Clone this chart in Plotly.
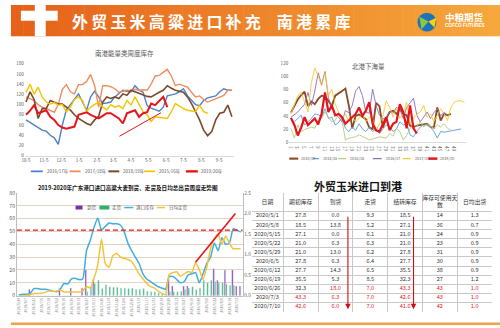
import plotly.graph_objects as go
import pandas as pd

W, H = 500, 328
def px(x): return x / W
def py(y): return 1 - y / H

FONT = "Noto Sans CJK SC"

# ---------------- top-left: 南港能量类周度库存 ----------------
tl_weeks = pd.date_range("2000-10-05", periods=52, freq="7D")
tl_tickvals = ["2000-10-05", "2000-11-05", "2000-12-05", "2001-01-05", "2001-02-05", "2001-03-05",
               "2001-04-05", "2001-05-05", "2001-06-05", "2001-07-05", "2001-08-05", "2001-09-05"]
tl_ticktext = ["10-5", "11-5", "12-5", "1-5", "2-5", "3-5", "4-5", "5-5", "6-5", "7-5", "8-5", "9-5"]
tl_names = ["2016/17年", "2017/18年", "2018/19年", "2015/16年", "2019/20年"]
tl_2016_17 = [70, 65, 60, 55, 50, 48, 40, 35, 22, 60, 90, 100, 110, 121, 105, 89, 115, 126, 115, 102,
              103, 105, 115, 122, 128, 126, 125, 137, 128, 124, 98, 93, 90, 87, 95, 117, 119, 121, 125, 131,
              117, 108, 100, 98, 108, 113, 115, 117, 125, 131, 128, 128]
tl_2017_18 = [115, 112, 108, 100, 95, 92, 88, 85, 100, 130, 139, 125, 121, 139, 139, 145, 159, 137, 95, 137,
              137, 135, 131, 124, 126, 128, 127, 130, 128, 129, 128, 140, 156, 157, 163, 169, 156, 137, 140, 137,
              134, 124, 115, 117, 110, 105, 108, 111, 115, 118, 128, 128]
tl_2018_19 = [105, 125, 110, 73, 92, 92, 108, 104, 101, 101, 95, 89, 80, 73, 68, 63, 60, 70, 77, 105,
              115, 112, 115, 112, 121, 118, 128, 125, 121, 118, 116, 115, 120, 124, 128, 137, 132, 128, 126, 124,
              115, 102, 86, 70, 50, 39, 47, 70, 83, 85, 99, 76]
tl_2015_16 = [124, 140, 120, 134, 115, 105, 101, 104, 99, 100, 86, 95, 110, 115, 108, 86, 95, 100, 105, 95,
              90, 100, 95, 98, 92, 108, 99, 115, 100, 86, 80, 67, 76, 75, 73, 73, 86, 102, 97, 92,
              89, 88, 86, 99, 86, 83, None, None, None, None, None, None]
tl_2019_20 = [80, 88, 99, 83, 86, 89, 76, 70, 60, 55, 53, 55, 57, 80, 82, 85, 80, 77, 73, 78,
              83, 83, 78, 73, 63, 83, 86, 89, 76, 83, 85, 102, 99, 108, 115, 95, None, None, None, None,
              None, None, None, None, None, None, None, None, None, None, None, None]
tl_colors = ["#4F81C7", "#F08C5A", "#7A4A2A", "#F5C400", "#E8141B"]
tl_widths = [1.4, 1.4, 1.6, 1.4, 2.0]

# ---------------- top-right: 北港下海量 ----------------
tr_weeks = list(range(1, 53))
tr_names = ["2018/19", "2014/15", "2015/16", "2016/17", "2017/18", "2019/20"]
def pad(v): return v + [None] * (52 - len(v))
tr_2018_19 = pad([45, 55, 65, 72, 77, 55, 62, 58, 66, 71, 70, 63, 55, 71, 74, 78, 82, 56, 21, 40,
                  42, 38, 35, 22, 20, 60, 55, 22, 36, 46, 48, 43, 51, 43, 41, 25, 23, 25, 26, 28,
                  28, 23, 22, 53, 33, 43, 41, 43])
tr_2014_15 = pad([36, 31, 36, 41, 26, 31, 36, 43, 42, 38, 51, 36, 38, 26, 30, 37, 21, 16, 23, 18,
                  28, 20, 16, 23, 16, 20, 13, 20, 26, 24, 16, 20, 31, 26, 28, 11, 8, 16, 23, 26,
                  26, 23, 16, 6, 16, 15, 16, 17, 18, 20, 20])
tr_2015_16 = pad([21, 6, 26, 16, 19, 21, 23, 21, 33, 36, 46, 38, 31, 33, 43, 33, 3, 6, 7, 8,
                  11, 9, 6, 3, 4, 6, 8, 7, 6, 13, 9, 21, 16, 3, 10, 21, 26, 24, 31, 23,
                  28, 24, 21, 26, 23, 28, 21, 18])
tr_2016_17 = pad([38, 42, 46, 52, 58, 76, 56, 78, 106, 88, 108, 68, 51, 43, 38, 31, 48, 45, 56, 78,
                  85, 71, 46, 44, 81, 56, 41, 35, 38, 46, 44, 53, 50, 36, 53, 60, 67, 41, 31, 38,
                  46, 36, 45, 51, 40, 46, 41])
tr_2017_18 = pad([43, 56, 71, 76, 61, 46, 91, 113, 101, 86, 106, 71, 81, 58, 46, 36, 43, 31, 38, 31,
                  36, 43, 31, 38, 36, 18, 28, 40, 63, 53, 38, 51, 36, 43, 61, 28, 36, 43, 46, 56,
                  38, 43, 31, 41, 51, 43, 33, 53, 61, 63, 63, 61])
tr_2019_20 = pad([37, 26, 10, 22, 38, 26, 31, 36, 27, 43, 76, 46, 56, 41, 43, 38, 28, 33, 38, 43,
                  53, 40, 48, 61, 28, 18, 16, 28, 38, 18, 28, 31, 58, 46, 21, 56, 21, 13])
tr_colors = ["#8B4A22", "#5B9BD5", "#B5C97A", "#8E6BB8", "#F7C531", "#E8141B"]
tr_widths = [1.8, 0.9, 0.9, 0.9, 0.9, 2.2]
tr_tickvals = list(range(1, 50, 2))

# ---------------- bottom-left: 广东港口 ----------------
bl_dates = [d.strftime("%Y/%-m/%-d") for d in pd.date_range(end="2020-07-10", periods=60, freq="7D")]
bl_arrive = [0, 0, 0, 5, 0, 0, 0, 0, 0, 0, 0, 5.5, 0, 0, 6, 0, 0, 6, 20, 0,
             13, 0, 0, 0, 0, 0, 0, 0, 0, 0, 0, 0, 0, 0, 0, 0, 0, 0, 0, 0,
             13, 7.5, 0, 0, 7.5, 7.5, 0, 0, 0, 0, 0, 0, 21, 12, 0, 20, 0, 20, 7.5, 7.5]
bl_move = [0, 0, 0, 0, 0, 0, 0, 0, 0, 0, 0, 0, 0, 0, 0, 0, 0, 0, 3, 7,
           9.5, 12, 5.5, 8.5, 7, 6.5, 6.5, 6, 6, 5.5, 6, 5, 5, 5.5, 3.5, 3, 3, 2, 1.5, 1,
           3, 3, 3, 3.5, 5, 6, 7, 4.5, 6, 12, 10, 12, 11, 10, 10, 9, 8, 8, 0, 0]
bl_stock = [0.5, 1, 1, 1.5, 5.5, 5.5, 5, 5, 4.5, 3.5, 3, 5, 9.5, 9, 13, 13.5, 12.5, 13, 35, 43,
            53, 60.5, 51, 54, 56.5, 56, 56, 55, 50, 41, 35, 30, 25, 17, 13, 11, 9, 7, 6, 5,
            15, 15, 12.5, 10, 11, 16, 17, 18, 10, 17, 25, 30, 41, 35, 45, 40, 41, 52, 51, 49.5]
bl_daily = [0, 0, 0, 0.02, 0.05, 0.05, 0.06, 0.08, 0.11, 0.11, 0.11, 0.14, 0.09, 0.09, 0.09, 0.09, 0.09, 0.11, 0.22, 0.19,
            0.42, 0.75, 1.38, 0.78, 0.69, 0.97, 1.03, 0.94, 0.91, 0.88, 0.83, 0.69, 0.53, 0.41, 0.30, 0.22, 0.19, 0.11, 0.06, 0.03,
            0.52, 0.56, 0.58, 0.47, 0.53, 0.59, 0.56, 0.80, 0.63, 0.39, 0.70, 1.14, 1.39, 1.50, 1.25, 1.45, 1.28, 1.14, 1.14, 1.14]
bl_names = ["到货", "走货", "港口库存", "日均走货"]
bl_colors = ["#7A2FA8", "#2EAF6A", "#3FAEE0", "#F5C33B"]

# ---------------- table: 外贸玉米进口到港 ----------------
tb_header = ["日期", "期初库存", "到货", "走货", "结转库存", "库存可使用天<br>数", "日均出货"]
tb_date = ["2020/5/1", "2020/5/8", "2020/5/15", "2020/5/22", "2020/5/29", "2020/6/5", "2020/6/12",
           "2020/6/19", "2020/6/26", "2020/7/3", "2020/7/10"]
tb_open = ["27.8", "18.5", "27.1", "21.0", "21.0", "27.8", "27.7", "35.5", "32.3", "43.3", "42.6"]
tb_arrive = ["0.0", "13.8", "0.0", "6.3", "13.0", "6.3", "14.3", "5.3", "18.0", "6.3", "6.0"]
tb_move = ["9.3", "5.2", "6.1", "6.3", "6.2", "6.4", "6.5", "8.5", "7.0", "7.0", "7.0"]
tb_close = ["18.5", "27.1", "21.0", "21.0", "27.8", "27.7", "35.5", "32.3", "43.3", "42.6", "41.6"]
tb_days = ["14", "36", "24", "23", "31", "30", "38", "27", "43", "43", "42"]
tb_daily = ["1.3", "0.7", "0.9", "0.9", "0.9", "0.9", "0.9", "1.2", "1.0", "1.0", "1.0"]
tb_colwidths = [32, 35, 35, 35, 35, 35, 35]
tb_red_from = [99, 9, 8, 8, 8, 8, 8]   # row index where text turns red, per column

fig = go.Figure()

for name, vals, c, w in zip(tl_names, [tl_2016_17, tl_2017_18, tl_2018_19, tl_2015_16, tl_2019_20], tl_colors, tl_widths):
    fig.add_trace(go.Scatter(x=tl_weeks, y=vals, name=name, mode="lines", line=dict(color=c, width=w),
                             xaxis="x", yaxis="y", showlegend=False))
for name, vals, c, w in zip(tr_names, [tr_2018_19, tr_2014_15, tr_2015_16, tr_2016_17, tr_2017_18, tr_2019_20], tr_colors, tr_widths):
    fig.add_trace(go.Scatter(x=tr_weeks, y=vals, name=name, mode="lines", line=dict(color=c, width=w),
                             xaxis="x2", yaxis="y2", showlegend=False))
fig.add_trace(go.Bar(x=bl_dates, y=bl_arrive, name=bl_names[0], marker_color=bl_colors[0], xaxis="x3", yaxis="y3", showlegend=False))
fig.add_trace(go.Bar(x=bl_dates, y=bl_move, name=bl_names[1], marker_color=bl_colors[1], xaxis="x3", yaxis="y3", showlegend=False))
fig.add_trace(go.Scatter(x=bl_dates, y=bl_stock, name=bl_names[2], mode="lines",
                         line=dict(color=bl_colors[2], width=1.5, shape="spline", smoothing=0.5),
                         xaxis="x3", yaxis="y3", showlegend=False))
fig.add_trace(go.Scatter(x=bl_dates, y=bl_daily, name=bl_names[3], mode="lines",
                         line=dict(color=bl_colors[3], width=1.5, shape="spline", smoothing=0.5),
                         xaxis="x3", yaxis="y4", showlegend=False))

# table drawn as text on its own axes (column units = px widths, row units = px heights)
red = "#E8141B"
blk = "#333333"
HDR_H, ROW_H = 19, 9.3
col_edges = [sum(tb_colwidths[:k]) for k in range(len(tb_colwidths) + 1)]
col_centers = [(col_edges[k] + col_edges[k + 1]) / 2 for k in range(len(tb_colwidths))]
n_rows = len(tb_date)
row_edges = [HDR_H + ROW_H * r for r in range(n_rows + 1)]
columns = [tb_date, tb_open, tb_arrive, tb_move, tb_close, tb_days, tb_daily]
cx, cy, ct, cc = [], [], [], []
for k, col in enumerate(columns):
    for r, v in enumerate(col):
        cx.append(col_centers[k]); cy.append(HDR_H + ROW_H * (r + 0.5)); ct.append(v)
        cc.append(red if r >= tb_red_from[k] else blk)
fig.add_trace(go.Scatter(x=col_centers, y=[HDR_H / 2] * len(tb_header), text=tb_header, mode="text",
                         textfont=dict(family=FONT, size=5.8, color=blk), xaxis="x5", yaxis="y5",
                         showlegend=False, hoverinfo="skip"))
fig.add_trace(go.Scatter(x=cx, y=cy, text=ct, mode="text", textfont=dict(family=FONT, size=5.6, color=cc),
                         xaxis="x5", yaxis="y5", showlegend=False, hoverinfo="skip"))

tick_font = dict(family=FONT, size=4.6, color="#595959")
fig.update_layout(
    width=W, height=H, margin=dict(l=0, r=0, t=0, b=0),
    paper_bgcolor="white", plot_bgcolor="rgba(0,0,0,0)",
    font=dict(family=FONT),
    barmode="group", bargap=0.25, bargroupgap=0,
    xaxis=dict(domain=[px(22), px(232)], range=["2000-10-03", "2001-09-30"], type="date",
               tickvals=tl_tickvals, ticktext=tl_ticktext, tickfont=tick_font, showgrid=False,
               showline=True, linecolor="#D9D9D9", linewidth=0.6, ticks="", anchor="y"),
    yaxis=dict(domain=[py(155), py(61)], range=[0, 180], dtick=20, tickfont=tick_font, showgrid=False,
               zeroline=False, ticks="", anchor="x"),
    xaxis2=dict(domain=[px(288), px(466)], range=[0.5, 52.5], tickvals=tr_tickvals, tickfont=tick_font,
                showgrid=False, showline=True, linecolor="#D9D9D9", linewidth=0.8, ticks="", zeroline=False, anchor="y2"),
    yaxis2=dict(domain=[py(141), py(61)], range=[0, 120], dtick=20, tickfont=tick_font, showgrid=False,
                zeroline=False, ticks="", anchor="x2"),
    xaxis3=dict(domain=[px(14), px(241)], type="category", tickangle=-90,
                tickfont=dict(family=FONT, size=3.6, color="#777777"), showgrid=False,
                showline=True, linecolor="#BFBFBF", linewidth=0.6, ticks="", anchor="y3"),
    yaxis3=dict(domain=[py(298), py(193)], range=[0, 80], dtick=10,
                tickfont=dict(family=FONT, size=5.2, color="#595959"),
                showgrid=True, gridcolor="#E3D2BF", gridwidth=0.7, zeroline=False,
                showline=True, linecolor="#BFBFBF", linewidth=0.6, ticks="", anchor="x3"),
    yaxis4=dict(overlaying="y3", side="right", range=[0, 2.5], tickvals=[0, 0.5, 1, 1.5, 2, 2.5],
                ticktext=["0.0", "0.5", "1.0", "1.5", "2.0", "2.5"],
                tickfont=dict(family=FONT, size=4.8, color="#595959"), showgrid=False, zeroline=False,
                showline=True, linecolor="#BFBFBF", linewidth=0.6, ticks="", anchor="x3"),
    xaxis5=dict(domain=[px(250), px(492)], range=[0, col_edges[-1]], tickvals=col_edges[1:-1],
                showticklabels=False, showgrid=True, gridcolor="#C8C8C8", gridwidth=0.6,
                zeroline=False, showline=False, ticks="", anchor="y5"),
    yaxis5=dict(domain=[py(193 + row_edges[-1]), py(193)], range=[row_edges[-1], 0], tickvals=row_edges,
                showticklabels=False, showgrid=True, gridcolor="#C8C8C8", gridwidth=0.6,
                zeroline=False, showline=False, ticks="", anchor="x5"),
)

shapes = []
ann = []

# header gradient bar
c0 = (0xE6, 0x62, 0x1A); c1 = (0xF6, 0xA8, 0x3C)
n = 40
x_start, x_end = 8, 500
for k in range(n):
    t = k / (n - 1)
    col = "rgb(%d,%d,%d)" % tuple(int(c0[j] + (c1[j] - c0[j]) * t) for j in range(3))
    xa = x_start + (x_end - x_start) * k / n
    xb = x_start + (x_end - x_start) * (k + 1) / n + 0.5
    shapes.append(dict(type="rect", xref="paper", yref="paper", x0=px(xa), x1=px(xb), y0=py(33), y1=py(1),
                       fillcolor=col, line=dict(width=0), layer="below"))
shapes.append(dict(type="rect", xref="paper", yref="paper", x0=px(18), x1=px(55), y0=py(17), y1=py(7),
                   fillcolor="white", line=dict(width=0)))
shapes.append(dict(type="rect", xref="paper", yref="paper", x0=px(32), x1=px(43), y0=py(33), y1=py(0),
                   fillcolor="white", line=dict(width=0)))
ann.append(dict(text="外\u2009贸\u2009玉\u2009米\u2009高\u2009粱\u2009进\u2009口\u2009补\u2009充\u2003南\u2009港\u2009累\u2009库",
                x=px(67), y=py(17), xref="paper", yref="paper", xanchor="left", yanchor="middle", showarrow=False,
                font=dict(family=FONT, size=16, color="white", weight="bold")))
# logo
shapes.append(dict(type="circle", xref="paper", yref="paper", x0=px(417), x1=px(436), y0=py(28), y1=py(9),
                   fillcolor="#1C75BC", line=dict(width=0)))
shapes.append(dict(type="path", xref="paper", yref="paper",
                   path="M %f %f L %f %f L %f %f Z" % (px(419), py(13), px(428), py(18), px(421), py(26)),
                   fillcolor="#8DC63F", line=dict(width=0)))
shapes.append(dict(type="path", xref="paper", yref="paper",
                   path="M %f %f L %f %f L %f %f Z" % (px(428), py(18), px(436), py(14), px(434), py(24)),
                   fillcolor="#FFD200", line=dict(width=0)))
ann.append(dict(text="中粮期货", x=px(443), y=py(13.5), xref="paper", yref="paper", xanchor="left", yanchor="middle",
                showarrow=False, font=dict(family=FONT, size=9.5, color="white", weight="bold")))
ann.append(dict(text="COFCO FUTURES", x=px(443), y=py(22), xref="paper", yref="paper", xanchor="left", yanchor="middle",
                showarrow=False, font=dict(family="Liberation Sans", size=4.6, color="white", weight="bold")))

# bottom orange line
shapes.append(dict(type="rect", xref="paper", yref="paper", x0=px(8), x1=px(500), y0=py(328), y1=py(325.5),
                   fillcolor="#F2A04A", line=dict(width=0)))

def center_text(text, x, y, size, color, bold=False):
    f = dict(family=FONT, size=size, color=color)
    if bold:
        f["weight"] = "bold"
    ann.append(dict(text=text, x=px(x), y=py(y), xref="paper", yref="paper", xanchor="center", yanchor="middle",
                    showarrow=False, font=f))

center_text("南港能量类周度库存", 122, 50, 6.5, "#595959")
center_text("北港下海量", 368, 63, 6.5, "#595959")
center_text("2019-2020年广东港口进口高粱大麦到货、走货及日均总出货周度走势图", 126, 188, 5.6, "#111111", True)
center_text("外贸玉米进口到港", 357, 186, 11, "#111111", True)

def leg_line(x0, x1, y, color, width, label, tx, size=4.5):
    shapes.append(dict(type="line", xref="paper", yref="paper", x0=px(x0), x1=px(x1), y0=py(y), y1=py(y),
                       line=dict(color=color, width=width)))
    ann.append(dict(text=label, x=px(tx), y=py(y), xref="paper", yref="paper", xanchor="left", yanchor="middle",
                    showarrow=False, font=dict(family=FONT, size=size, color="#595959")))
def leg_box(x0, x1, y, color, label, tx, size=4.5):
    shapes.append(dict(type="rect", xref="paper", yref="paper", x0=px(x0), x1=px(x1), y0=py(y + 2), y1=py(y - 2),
                       fillcolor=color, line=dict(width=0)))
    ann.append(dict(text=label, x=px(tx), y=py(y), xref="paper", yref="paper", xanchor="left", yanchor="middle",
                    showarrow=False, font=dict(family=FONT, size=size, color="#595959")))

tl_leg = [(28, 40, 42), (67, 78, 80), (106, 117, 119), (142, 153, 155), (184, 196, 197)]
for (a, b, t), name, c, w in zip(tl_leg, tl_names, tl_colors, tl_widths):
    leg_line(a, b, 171, c, w + 0.4, name, t)
tr_leg = [(288, 297, 298), (312, 318, 320), (337, 345, 347), (372, 381, 383), (402, 410, 412), (428, 437, 438)]
for (a, b, t), name, c, w in zip(tr_leg, tr_names, tr_colors, tr_widths):
    leg_line(a, b, 158, c, w + 0.3, name, t, size=3.8)
leg_box(73, 80, 208, bl_colors[0], bl_names[0], 82)
leg_box(97, 107, 208, bl_colors[1], bl_names[1], 108)
leg_line(122, 131, 208, bl_colors[2], 1.5, bl_names[2], 132)
leg_line(155, 163, 208, bl_colors[3], 1.5, bl_names[3], 165)

# trend markers
shapes.append(dict(type="line", xref="x", yref="y", x0="2001-03-16", y0=38, x1="2001-05-27", y1=84,
                   line=dict(color="#E8141B", width=1)))
shapes.append(dict(type="line", xref="x3 domain", yref="y3", x0=0, x1=1, y0=51, y1=51,
                   line=dict(color="#E8141B", width=1.4, dash="5px,3px")))
shapes.append(dict(type="line", xref="x3", yref="y3", x0=47, y0=26, x1=57.6, y1=64,
                   line=dict(color="#E8141B", width=1.6)))
for xa in (347, 413):
    ann.append(dict(text="", x=px(xa), y=py(312), ax=0, ay=-94, xref="paper", yref="paper",
                    showarrow=True, arrowcolor="#D01010", arrowwidth=1.1, arrowhead=2, arrowsize=1))

fig.update_layout(shapes=shapes, annotations=ann)
fig.write_html("out.html")
